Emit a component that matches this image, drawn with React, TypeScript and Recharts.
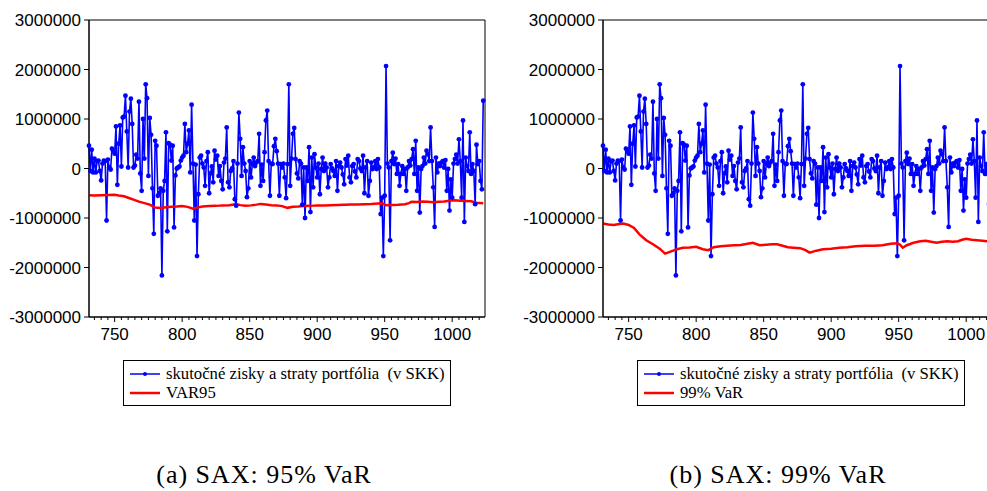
import React from "react";
import { LineChart, Line, XAxis, YAxis, ReferenceArea } from "recharts";

// observations 731..1023, actual P&L of the portfolio in thousands of SKK
const firstObs = 731;
const pnlK = [
  460, -50, 380, -80, 200, -80, 150, 160, -50, -240,
  100, 160, 150, -1050, 180, 20, -20, 400, 350, 300,
  850, -330, 500, 870, 40, 1030, 1050, 1470, 750, 20,
  1150, 1410, 900, 20, 60, 280, 200, 1350, -100, -450,
  1000, 200, 1700, 1420, -150, 1020, 680, -400, -1320, 560,
  460, -550, -500, -400, -2160, -450, -250, 730, -1270, 510,
  480, 160, 460, -1190, -140, 0, 20, 40, 160, 220,
  260, 900, 330, 500, 770, -80, 1290, 100, -1050, 80,
  -1770, -520, 220, 260, 100, 20, -350, 150, 330, -500,
  -100, 40, -280, 360, 180, 260, -150, 50, -250, -420,
  120, 200, 830, -280, -380, -50, 0, 150, -620, -750,
  100, 1130, 600, -150, 430, 100, -50, -580, -400, 150,
  -180, 90, 220, 50, 120, 150, 700, -350, 80, -250,
  330, 970, 1170, 150, -550, 100, 90, 450, 600, 350,
  100, -550, 90, 20, 100, -180, -600, 90, 1700, -350,
  200, 700, 820, 190, -100, -200, 150, 100, -730, 20,
  -1000, 20, -250, 430, -880, 220, -380, 290, 20, -180,
  100, -520, -10, 220, -50, 100, 20, -380, -180, 90,
  0, -50, -150, 150, -450, 50, 120, 20, -120, -320,
  190, 60, 260, -180, -280, 50, 90, -60, -180, 190,
  150, 0, -50, 260, -500, 20, 150, -550, -250, 120,
  -10, 20, 150, -10, 190, 20, -920, -590, -1770, -550,
  2070, 100, 20, -1450, 150, 320, 90, 200, -110, 90,
  -350, -110, 50, -110, -10, -450, 20, 150, 60, 190,
  390, -110, 560, -450, 20, -890, -10, 50, 220, 100,
  360, 290, 150, 830, 150, -380, -1180, 220, -80, 100,
  50, 120, 150, 20, 170, -450, -10, -850, -220, -590,
  100, 190, 280, 100, 590, 150, -590, 970, -1080, 220,
  50, -50, 730, -110, 90, -50, -720, 480, 90, 150,
  -250, -420, 1370,
];

// VaR 95 % (thousands of SKK), read at these observations
const var95Obs = [
  731, 735, 740, 745, 750, 753, 757, 760, 764, 768, 772, 776, 780, 784, 788, 792,
  796, 800, 804, 808, 811, 815, 820, 825, 830, 835, 840, 843, 847, 851, 855, 858,
  862, 866, 870, 874, 878, 882, 886, 890, 895, 900, 905, 910, 915, 920, 925, 930,
  935, 940, 945, 948, 951, 955, 960, 965, 968, 970, 974, 978, 982, 986, 990, 994,
  998, 1002, 1006, 1010, 1014, 1018, 1023,
];
const var95K = [
  -540, -545, -540, -535, -530, -545, -560, -590, -630, -670, -700, -730, -790, -800, -785, -775,
  -770, -760, -775, -810, -790, -770, -760, -755, -745, -740, -720, -740, -750, -745, -730, -715,
  -725, -740, -745, -760, -795, -775, -770, -760, -755, -745, -745, -740, -735, -730, -725, -725,
  -720, -715, -705, -700, -740, -735, -730, -720, -700, -670, -675, -665, -670, -680, -670, -665,
  -650, -640, -650, -655, -660, -690, -700,
];

// VaR 99 % (thousands of SKK)
const var99Obs = [
  731, 735, 739, 743, 746, 750, 754, 758, 763, 768, 773, 777, 781, 786, 790, 795,
  800, 805, 809, 813, 818, 823, 828, 833, 838, 842, 847, 852, 856, 860, 864, 868,
  872, 877, 881, 884, 889, 894, 900, 906, 912, 918, 925, 932, 938, 944, 949, 951,
  953, 956, 961, 966, 970, 974, 978, 982, 986, 990, 994, 997, 1000, 1004, 1008, 1012,
  1016, 1020, 1023,
];
const var99K = [
  -1110, -1130, -1140, -1120, -1110, -1140, -1200, -1330, -1450, -1530, -1620, -1720, -1680, -1630, -1600, -1595,
  -1580, -1630, -1650, -1590, -1570, -1560, -1550, -1545, -1520, -1500, -1550, -1540, -1530, -1530, -1560, -1590,
  -1600, -1610, -1650, -1700, -1660, -1630, -1620, -1600, -1590, -1570, -1560, -1560, -1550, -1520, -1510, -1540,
  -1600, -1550, -1500, -1470, -1460, -1480, -1500, -1480, -1470, -1480, -1470, -1440, -1420, -1440, -1450, -1460,
  -1470, -1460, -1470,
];

const yTicks = [3000000, 2000000, 1000000, 0, -1000000, -2000000, -3000000];
const xLabels = [750, 800, 850, 900, 950, 1000];
const xTicks: number[] = [];
for (let t = 735; t <= 1020; t += 5) xTicks.push(t);

const pnlName = "skutočné zisky a straty portfólia  (v SKK)";
const panels = [
  { id: "a", left: 0, varName: "VAR95", caption: "(a) SAX: 95% VaR", obs: var95Obs, vals: var95K },
  { id: "b", left: 514, varName: "99% VaR", caption: "(b) SAX: 99% VaR", obs: var99Obs, vals: var99K },
];

const sans = "'Liberation Sans', Arial, sans-serif";
const serif = "'Liberation Serif', 'Times New Roman', serif";
const domainX: [number, number] = [731, 1024.3];
const domainY: [number, number] = [-3000000, 3000000];

function XTick({ x, y, payload }: any) {
  const major = xLabels.includes(payload.value);
  return (
    <g>
      <line x1={x} x2={x} y1={y} y2={y + (major ? 5 : 3)} stroke="#000" />
      {major && (
        <text x={x} y={y + 23} textAnchor="middle" fontSize={17} fontFamily={sans} fill="#000">
          {payload.value}
        </text>
      )}
    </g>
  );
}

function LegendBox({ left, varName }: { left: number; varName: string }) {
  const row = { position: "absolute" as const, left: 42, height: 19, lineHeight: "19px", whiteSpace: "pre" as const };
  return (
    <div
      style={{
        position: "absolute", left, top: 360, width: 326, height: 44,
        border: "1px solid #000", fontFamily: serif, fontSize: 16.7, color: "#000",
      }}
    >
      <svg style={{ position: "absolute", left: 6, top: 8 }} width={30} height={10}>
        <line x1={0} x2={30} y1={5} y2={5} stroke="#0000ff" strokeWidth={1.5} />
        <circle cx={15} cy={5} r={2} fill="#0000ff" />
      </svg>
      <div style={{ ...row, top: 3 }}>{pnlName}</div>
      <svg style={{ position: "absolute", left: 6, top: 27 }} width={30} height={10}>
        <line x1={0} x2={30} y1={5} y2={5} stroke="#ff0000" strokeWidth={2.5} />
      </svg>
      <div style={{ ...row, top: 22 }}>{varName}</div>
    </div>
  );
}

function Panel({ p }: { p: (typeof panels)[number] }) {
  const pnlData = pnlK.map((v, i) => ({ obs: firstObs + i, value: v * 1000 }));
  const varData = p.obs.map((o, i) => ({ obs: o, value: p.vals[i] * 1000 }));
  return (
    <>
      <div style={{ position: "absolute", left: p.left, top: 0 }}>
        <LineChart width={500} height={350} margin={{ top: 20, right: 15, bottom: 3, left: 0 }}>
          <XAxis
            dataKey="obs" type="number" domain={domainX} ticks={xTicks} interval={0}
            tick={<XTick />} tickSize={0} tickMargin={0} tickLine={false}
            axisLine={{ stroke: "#000" }} height={30}
          />
          <YAxis
            type="number" domain={domainY} ticks={yTicks} interval={0} width={89}
            tickSize={5} tickMargin={3} tickLine={{ stroke: "#000" }} axisLine={{ stroke: "#000" }}
            tick={{ fill: "#000", fontSize: 17, fontFamily: sans }}
            tickFormatter={(v: number) => String(v)}
          />
          {/* plot frame */}
          <ReferenceArea
            x1={domainX[0]} x2={domainX[1]} y1={domainY[0]} y2={domainY[1]}
            fill="none" fillOpacity={0} stroke="#000" strokeWidth={1} ifOverflow="visible"
          />
          <Line
            data={pnlData} dataKey="value" name={pnlName} stroke="#0000ff" strokeWidth={1.6}
            dot={{ r: 2.4, fill: "#0000ff", stroke: "none" }} isAnimationActive={false}
          />
          <Line
            data={varData} dataKey="value" name={p.varName} stroke="#ff0000" strokeWidth={2.5}
            dot={false} isAnimationActive={false}
          />
        </LineChart>
      </div>
      <LegendBox left={p.left + 123} varName={p.varName} />
      <div
        style={{
          position: "absolute", left: p.left + 14, top: 459, width: 500, textAlign: "center",
          fontFamily: serif, fontSize: 26, letterSpacing: 1, lineHeight: "32px", color: "#000",
        }}
      >
        {p.caption}
      </div>
    </>
  );
}

export default function App() {
  return (
    <div
      style={{
        position: "absolute", left: 0, top: 0, width: 987, height: 491,
        overflow: "hidden", background: "#fff",
      }}
    >
      {panels.map((p) => (
        <Panel key={p.id} p={p} />
      ))}
    </div>
  );
}
